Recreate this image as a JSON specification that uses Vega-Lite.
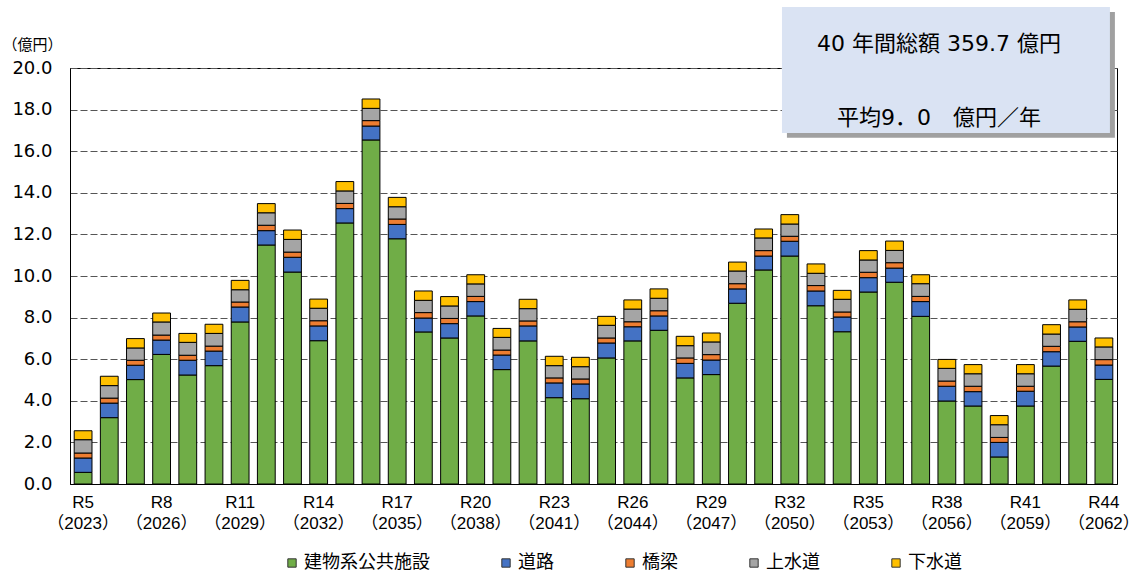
{
  "$schema": "https://vega.github.io/schema/vega-lite/v6.json",
  "width": 1047,
  "height": 416,
  "autosize": {"type": "none"},
  "padding": {"left": 70, "top": 68, "right": 27, "bottom": 90},
  "config": {
    "font": "Noto Sans CJK JP",
    "view": {"stroke": "#000000", "strokeWidth": 1}
  },
  "resolve": {"scale": {"x": "independent"}, "axis": {"x": "independent"}},
  "layer": [
    {
      "data": {
        "values": [
          {"t": "R5 （2023）", "建物系公共施設": 0.56, "道路": 0.69, "橋梁": 0.24, "上水道": 0.64, "下水道": 0.43},
          {"t": "R6 （2024）", "建物系公共施設": 3.19, "道路": 0.70, "橋梁": 0.24, "上水道": 0.60, "下水道": 0.45},
          {"t": "R7 （2025）", "建物系公共施設": 5.02, "道路": 0.69, "橋梁": 0.24, "上水道": 0.59, "下水道": 0.45},
          {"t": "R8 （2026）", "建物系公共施設": 6.23, "道路": 0.69, "橋梁": 0.24, "上水道": 0.63, "下水道": 0.43},
          {"t": "R9 （2027）", "建物系公共施設": 5.24, "道路": 0.71, "橋梁": 0.24, "上水道": 0.62, "下水道": 0.43},
          {"t": "R10 （2028）", "建物系公共施設": 5.69, "道路": 0.70, "橋梁": 0.24, "上水道": 0.61, "下水道": 0.44},
          {"t": "R11 （2029）", "建物系公共施設": 7.79, "道路": 0.72, "橋梁": 0.24, "上水道": 0.59, "下水道": 0.45},
          {"t": "R12 （2030）", "建物系公共施設": 11.49, "道路": 0.69, "橋梁": 0.26, "上水道": 0.60, "下水道": 0.44},
          {"t": "R13 （2031）", "建物系公共施設": 10.19, "道路": 0.71, "橋梁": 0.25, "上水道": 0.61, "下水道": 0.45},
          {"t": "R14 （2032）", "建物系公共施設": 6.89, "道路": 0.71, "橋梁": 0.25, "上水道": 0.60, "下水道": 0.44},
          {"t": "R15 （2033）", "建物系公共施設": 12.55, "道路": 0.69, "橋梁": 0.25, "上水道": 0.60, "下水道": 0.45},
          {"t": "R16 （2034）", "建物系公共施設": 16.54, "道路": 0.67, "橋梁": 0.26, "上水道": 0.59, "下水道": 0.45},
          {"t": "R17 （2035）", "建物系公共施設": 11.79, "道路": 0.69, "橋梁": 0.26, "上水道": 0.59, "下水道": 0.45},
          {"t": "R18 （2036）", "建物系公共施設": 7.31, "道路": 0.67, "橋梁": 0.26, "上水道": 0.59, "下水道": 0.45},
          {"t": "R19 （2037）", "建物系公共施設": 7.02, "道路": 0.69, "橋梁": 0.25, "上水道": 0.60, "下水道": 0.45},
          {"t": "R20 （2038）", "建物系公共施設": 8.08, "道路": 0.69, "橋梁": 0.25, "上水道": 0.60, "下水道": 0.44},
          {"t": "R21 （2039）", "建物系公共施設": 5.50, "道路": 0.70, "橋梁": 0.24, "上水道": 0.61, "下水道": 0.43},
          {"t": "R22 （2040）", "建物系公共施設": 6.88, "道路": 0.72, "橋梁": 0.24, "上水道": 0.59, "下水道": 0.45},
          {"t": "R23 （2041）", "建物系公共施設": 4.15, "道路": 0.71, "橋梁": 0.24, "上水道": 0.59, "下水道": 0.45},
          {"t": "R24 （2042）", "建物系公共施設": 4.10, "道路": 0.71, "橋梁": 0.24, "上水道": 0.59, "下水道": 0.45},
          {"t": "R25 （2043）", "建物系公共施設": 6.06, "道路": 0.72, "橋梁": 0.24, "上水道": 0.61, "下水道": 0.43},
          {"t": "R26 （2044）", "建物系公共施設": 6.88, "道路": 0.68, "橋梁": 0.24, "上水道": 0.61, "下水道": 0.44},
          {"t": "R27 （2045）", "建物系公共施設": 7.39, "道路": 0.69, "橋梁": 0.25, "上水道": 0.60, "下水道": 0.45},
          {"t": "R28 （2046）", "建物系公共施設": 5.10, "道路": 0.70, "橋梁": 0.26, "上水道": 0.59, "下水道": 0.45},
          {"t": "R29 （2047）", "建物系公共施設": 5.26, "道路": 0.70, "橋梁": 0.26, "上水道": 0.61, "下水道": 0.43},
          {"t": "R30 （2048）", "建物系公共施設": 8.69, "道路": 0.69, "橋梁": 0.25, "上水道": 0.61, "下水道": 0.43},
          {"t": "R31 （2049）", "建物系公共施設": 10.29, "道路": 0.67, "橋梁": 0.26, "上水道": 0.61, "下水道": 0.43},
          {"t": "R32 （2050）", "建物系公共施設": 10.96, "道路": 0.71, "橋梁": 0.24, "上水道": 0.59, "下水道": 0.45},
          {"t": "R33 （2051）", "建物系公共施設": 8.57, "道路": 0.71, "橋梁": 0.26, "上水道": 0.59, "下水道": 0.45},
          {"t": "R34 （2052）", "建物系公共施設": 7.32, "道路": 0.71, "橋梁": 0.24, "上水道": 0.61, "下水道": 0.43},
          {"t": "R35 （2053）", "建物系公共施設": 9.23, "道路": 0.69, "橋梁": 0.26, "上水道": 0.59, "下水道": 0.45},
          {"t": "R36 （2054）", "建物系公共施設": 9.70, "道路": 0.68, "橋梁": 0.26, "上水道": 0.59, "下水道": 0.45},
          {"t": "R37 （2055）", "建物系公共施設": 8.06, "道路": 0.71, "橋梁": 0.25, "上水道": 0.61, "下水道": 0.43},
          {"t": "R38 （2056）", "建物系公共施設": 3.99, "道路": 0.71, "橋梁": 0.25, "上水道": 0.61, "下水道": 0.43},
          {"t": "R39 （2057）", "建物系公共施設": 3.75, "道路": 0.69, "橋梁": 0.26, "上水道": 0.60, "下水道": 0.44},
          {"t": "R40 （2058）", "建物系公共施設": 1.30, "道路": 0.70, "橋梁": 0.24, "上水道": 0.61, "下水道": 0.44},
          {"t": "R41 （2059）", "建物系公共施設": 3.75, "道路": 0.71, "橋梁": 0.24, "上水道": 0.60, "下水道": 0.44},
          {"t": "R42 （2060）", "建物系公共施設": 5.67, "道路": 0.69, "橋梁": 0.26, "上水道": 0.59, "下水道": 0.45},
          {"t": "R43 （2061）", "建物系公共施設": 6.86, "道路": 0.69, "橋梁": 0.25, "上水道": 0.60, "下水道": 0.45},
          {"t": "R44 （2062）", "建物系公共施設": 5.03, "道路": 0.69, "橋梁": 0.26, "上水道": 0.61, "下水道": 0.43}
        ]
      },
      "transform": [
        {"fold": ["建物系公共施設", "道路", "橋梁", "上水道", "下水道"], "as": ["cat", "v"]},
        {
          "lookup": "cat",
          "from": {
            "data": {
              "values": [
                {"cat": "建物系公共施設", "rank": 1},
                {"cat": "道路", "rank": 2},
                {"cat": "橋梁", "rank": 3},
                {"cat": "上水道", "rank": 4},
                {"cat": "下水道", "rank": 5}
              ]
            },
            "key": "cat",
            "fields": ["rank"]
          }
        }
      ],
      "mark": {"type": "bar", "stroke": "#000000", "strokeWidth": 1},
      "encoding": {
        "x": {
          "field": "t",
          "type": "nominal",
          "sort": null,
          "scale": {"paddingInner": 0.32, "paddingOuter": 0.16},
          "axis": {
            "title": null,
            "values": ["R5 （2023）", "R8 （2026）", "R11 （2029）", "R14 （2032）", "R17 （2035）", "R20 （2038）", "R23 （2041）", "R26 （2044）", "R29 （2047）", "R32 （2050）", "R35 （2053）", "R38 （2056）", "R41 （2059）", "R44 （2062）"],
            "labelExpr": "split(datum.value, ' ')",
            "labelAngle": 0,
            "labelFont": "Liberation Sans, Noto Sans CJK JP",
            "labelFontSize": 17,
            "labelColor": "#000000",
            "labelLineHeight": 21,
            "labelPadding": 10,
            "ticks": false,
            "tickSize": 0,
            "domainColor": "#000000",
            "grid": false
          }
        },
        "y": {
          "field": "v",
          "type": "quantitative",
          "stack": "zero",
          "scale": {"domain": [0, 20], "nice": false},
          "axis": {
            "title": "（億円）",
            "titleAngle": 0,
            "titleAlign": "center",
            "titleBaseline": "middle",
            "titleX": -38,
            "titleY": -24,
            "titleFont": "Noto Sans CJK JP",
            "titleFontSize": 15,
            "titleFontWeight": "normal",
            "titleColor": "#000000",
            "values": [0, 2, 4, 6, 8, 10, 12, 14, 16, 18, 20],
            "format": ".1f",
            "labelFont": "DejaVu Sans",
            "labelFontSize": 18,
            "labelColor": "#000000",
            "labelPadding": 18,
            "ticks": false,
            "tickSize": 0,
            "domainColor": "#000000",
            "grid": true,
            "gridColor": "#555555",
            "gridDash": [7, 3],
            "gridWidth": 1
          }
        },
        "color": {
          "field": "cat",
          "type": "nominal",
          "sort": ["建物系公共施設", "道路", "橋梁", "上水道", "下水道"],
          "scale": {
            "domain": ["建物系公共施設", "道路", "橋梁", "上水道", "下水道"],
            "range": ["#70AD47", "#4472C4", "#ED7D31", "#A5A5A5", "#FFC000"]
          },
          "legend": {
            "title": null,
            "orient": "none",
            "direction": "horizontal",
            "legendX": 213,
            "legendY": 486,
            "columnPadding": 67,
            "symbolType": "square",
            "symbolSize": 70,
            "symbolStrokeColor": "#333333",
            "symbolStrokeWidth": 1,
            "labelFont": "Noto Sans CJK JP",
            "labelFontSize": 18,
            "labelColor": "#000000",
            "labelOffset": 3
          }
        },
        "order": {"field": "rank", "type": "quantitative", "sort": "ascending"}
      }
    },
    {
      "data": {"values": [{}]},
      "mark": {"type": "rect", "fill": "#A0A0A0"},
      "encoding": {
        "x": {"datum": 27.39, "type": "quantitative", "scale": {"domain": [0, 40]}, "axis": null},
        "x2": {"datum": 39.92},
        "y": {"datum": 22.69, "type": "quantitative", "scale": {"domain": [0, 20], "nice": false}},
        "y2": {"datum": 16.65}
      }
    },
    {
      "data": {"values": [{}]},
      "mark": {"type": "rect", "fill": "#DAE3F3"},
      "encoding": {
        "x": {"datum": 27.2, "type": "quantitative", "scale": {"domain": [0, 40]}, "axis": null},
        "x2": {"datum": 39.73},
        "y": {"datum": 22.93, "type": "quantitative", "scale": {"domain": [0, 20], "nice": false}},
        "y2": {"datum": 16.88}
      }
    },
    {
      "data": {"values": [{}]},
      "mark": {"type": "text", "text": "40 年間総額  359.7 億円", "font": "DejaVu Sans, Noto Sans CJK JP", "fontSize": 22, "color": "#000000", "align": "center", "baseline": "middle"},
      "encoding": {
        "x": {"datum": 33.2, "type": "quantitative", "scale": {"domain": [0, 40]}, "axis": null},
        "y": {"datum": 21.17, "type": "quantitative", "scale": {"domain": [0, 20], "nice": false}}
      }
    },
    {
      "data": {"values": [{}]},
      "mark": {"type": "text", "text": "平均9．0　億円／年", "font": "DejaVu Sans, Noto Sans CJK JP", "fontSize": 22, "color": "#000000", "align": "center", "baseline": "middle"},
      "encoding": {
        "x": {"datum": 33.2, "type": "quantitative", "scale": {"domain": [0, 40]}, "axis": null},
        "y": {"datum": 17.61, "type": "quantitative", "scale": {"domain": [0, 20], "nice": false}}
      }
    }
  ]
}
